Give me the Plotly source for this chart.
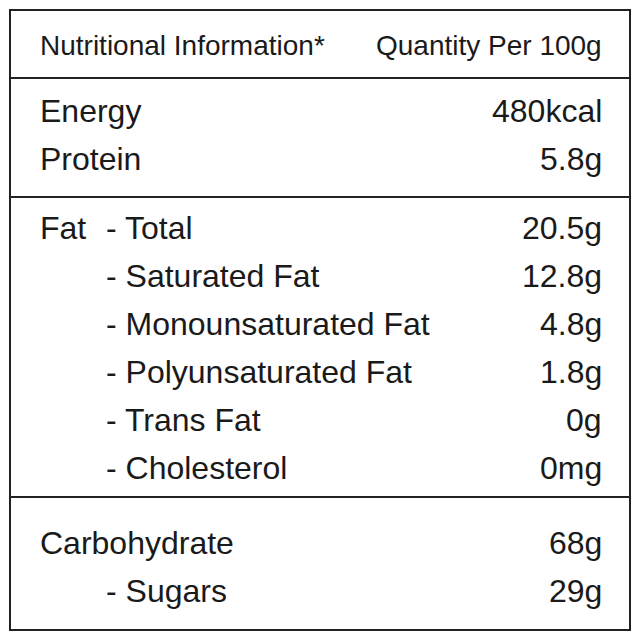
import plotly.graph_objects as go

header_left = "Nutritional Information*"
header_right = "Quantity Per 100g"

groups = [
    [("Energy", "480kcal", 0), ("Protein", "5.8g", 0)],
    [("Fat", "", 0), ("- Total", "20.5g", 1), ("- Saturated Fat", "12.8g", 1),
     ("- Monounsaturated Fat", "4.8g", 1), ("- Polyunsaturated Fat", "1.8g", 1),
     ("- Trans Fat", "0g", 1), ("- Cholesterol", "0mg", 1)],
    [("Carbohydrate", "68g", 0), ("- Sugars", "29g", 1)],
]

font = "Liberation Sans Narrow, Arial Narrow, sans-serif"
fig = go.Figure()
fig.add_trace(go.Scatter(x=[100], y=[100], mode="markers", marker=dict(opacity=0), hoverinfo="skip"))

ann = []
def txt(x, y, s, anchor, size=32):
    ann.append(dict(x=x, y=y, text=s, showarrow=False, xanchor=anchor, yanchor="middle",
                    font=dict(family=font, size=size, color="#1a1a1a")))

txt(38, 45, header_left, "left", 28)
txt(604, 45, header_right, "right", 28)

starts = [111, 228, 543]
step = 48
for g, y0 in zip(groups, starts):
    y = y0
    for lab, val, ind in g:
        if lab == "Fat":
            txt(38, y, "Fat", "left")
            continue
        txt(104 if ind else 38, y, lab, "left")
        txt(604, y, val, "right")
        y += step

shapes = [dict(type="rect", x0=10, x1=630, y0=10, y1=630, line=dict(color="#222", width=2))]
for yl in [78, 197, 497]:
    shapes.append(dict(type="line", x0=10, x1=630, y0=yl, y1=yl, line=dict(color="#222", width=2)))

# page body has an 8px margin, so shift the axis ranges to compensate
fig.update_layout(width=640, height=640, margin=dict(l=0, r=0, t=0, b=0),
                  plot_bgcolor="white", paper_bgcolor="white", showlegend=False,
                  xaxis=dict(range=[8, 648], visible=False, fixedrange=True),
                  yaxis=dict(range=[648, 8], visible=False, fixedrange=True),
                  annotations=ann, shapes=shapes)
fig.write_html("out.html")
